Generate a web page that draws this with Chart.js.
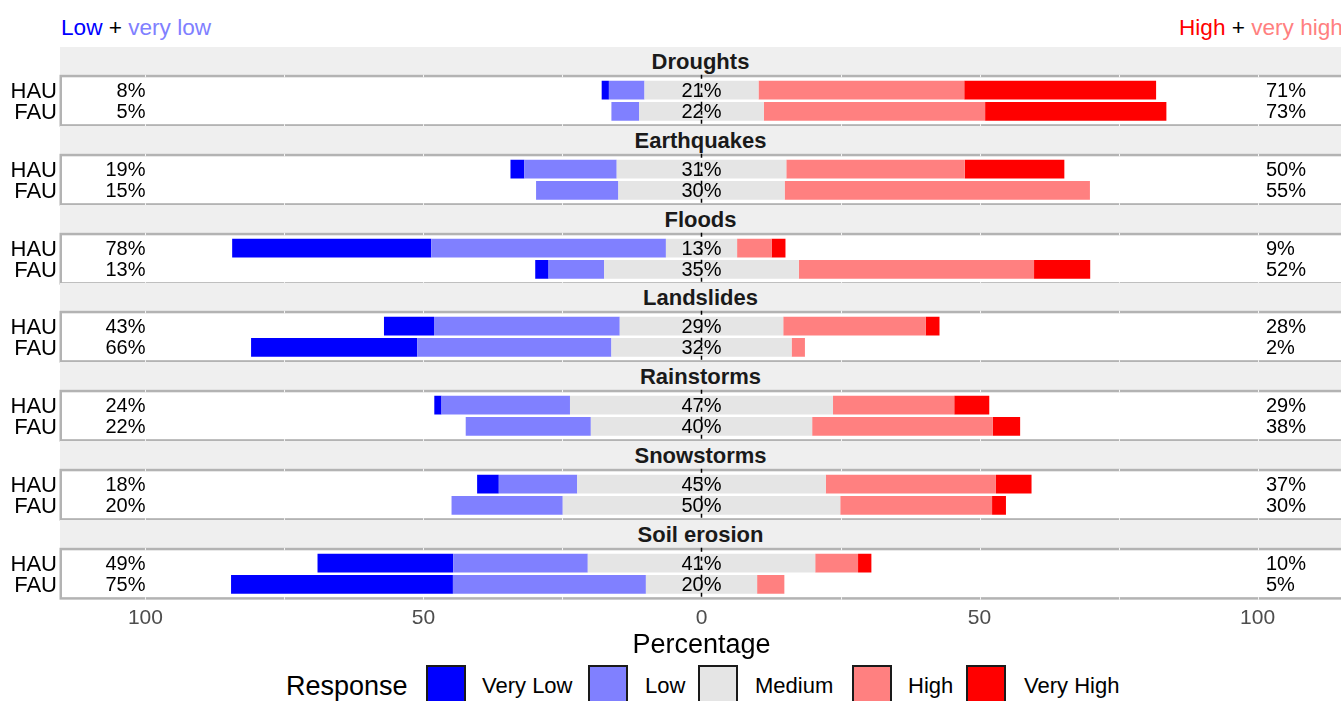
<!DOCTYPE html>
<html>
<head>
<meta charset="utf-8">
<script src="https://cdn.jsdelivr.net/npm/chart.js@4.4.1/dist/chart.umd.min.js"></script>
<style>
  body { margin: 0; width: 1341px; height: 701px; overflow: hidden; background: #fff; position: relative; font-family: "Liberation Sans", Arial, sans-serif; }
  .abs { position: absolute; white-space: nowrap; }
  .strip { position: absolute; left: 60px; width: 1281px; height: 28px; background: #efefef; text-align: center; font-weight: bold; font-size: 22px; line-height: 29px; color: #1a1a1a; }
  .key { position: absolute; top: 665px; width: 40px; height: 40px; box-sizing: border-box; border: 2px solid #1a1a1a; }
  canvas { position: absolute; left: 0; }
</style>
</head>
<body>
<div class="abs" style="left:61px; top:15px; font-size:22.6px;"><span style="color:#0000ff">Low</span> + <span style="color:#8080ff">very low</span></div>
<div class="abs" style="left:1179px; top:15px; font-size:22.6px;"><span style="color:#ff0000">High</span> + <span style="color:#ff8080">very high</span></div>
<div class="abs" style="left:286px; top:671px; font-size:27px;">Response</div>
<script>
const hazards = ['Droughts', 'Earthquakes', 'Floods', 'Landslides', 'Rainstorms', 'Snowstorms', 'Soil erosion'];
const groups = ['HAU', 'FAU'];
const responses = ['Very Low', 'Low', 'Medium', 'High', 'Very High'];
const responseColors = ['#0000ff', '#8080ff', '#e5e5e5', '#ff8080', '#ff0000'];

// percent per hazard, [HAU, FAU]
const veryLow  = [[1.3, 0], [2.5, 0], [35.8, 2.4], [9.0, 29.9], [1.3, 0], [3.9, 0], [24.4, 39.9]];
const low      = [[6.4, 5.0], [16.6, 14.8], [42.2, 10.0], [33.4, 34.9], [23.1, 22.5], [14.1, 20.0], [24.2, 34.7]];
const medium   = [[20.5, 22.4], [30.5, 29.9], [12.8, 35.0], [29.4, 32.4], [47.3, 39.8], [44.7, 49.9], [40.9, 20.0]];
const high     = [[37.0, 39.8], [32.1, 54.9], [6.2, 42.3], [25.6, 2.4], [21.8, 32.5], [30.6, 27.3], [7.7, 4.9]];
const veryHigh = [[34.5, 32.6], [17.9, 0], [2.5, 10.1], [2.5, 0], [6.3, 4.9], [6.4, 2.5], [2.4, 0]];

const lowLabels  = [['8%', '5%'], ['19%', '15%'], ['78%', '13%'], ['43%', '66%'], ['24%', '22%'], ['18%', '20%'], ['49%', '75%']];
const midLabels  = [['21%', '22%'], ['31%', '30%'], ['13%', '35%'], ['29%', '32%'], ['47%', '40%'], ['45%', '50%'], ['41%', '20%']];
const highLabels = [['71%', '73%'], ['50%', '55%'], ['9%', '52%'], ['28%', '2%'], ['29%', '38%'], ['37%', '30%'], ['10%', '5%']];

const tickValues = [-100, -75, -50, -25, 0, 25, 50, 75, 100];
const leftLabelAt = -100;   // right-aligned here
const rightLabelAt = 101.5; // left-aligned here

const firstPanelTop = 75;
const facetStep = 78.8;
const canvasLead = 16;            // canvas starts this far above the panel
const padTop = canvasLead + 4.43; // canvas top to first category edge
const areaH = 42.6;               // two category bands

Chart.defaults.font.family = '"Liberation Sans", Arial, sans-serif';

function facetPlugin(i) {
    return {
        id: 'facet' + i,
        afterDatasetsDraw(chart) {
            const { ctx, chartArea, scales: { x, y } } = chart;
            const unit = (chartArea.bottom - chartArea.top) / 2;
            const top = chartArea.top - 0.1 * unit;
            const bottom = chartArea.bottom + 0.1 * unit;
            ctx.save();

            // panel border
            ctx.strokeStyle = '#b3b3b3';
            ctx.lineWidth = 2.5;
            ctx.strokeRect(chartArea.left - 1.25, top - 1.25, chartArea.right - chartArea.left + 2.5, bottom - top + 2.5);

            // faint grid marks across the border
            ctx.strokeStyle = 'rgba(255,255,255,0.85)';
            ctx.lineWidth = 1;
            tickValues.forEach(v => {
                if (v === 0) return;
                const px = Math.round(x.getPixelForValue(v)) + 0.5;
                ctx.beginPath();
                ctx.moveTo(px, top - 2.5); ctx.lineTo(px, top);
                ctx.moveTo(px, bottom); ctx.lineTo(px, bottom + 2.5);
                ctx.stroke();
            });

            // dashed zero line
            const x0 = x.getPixelForValue(0);
            ctx.strokeStyle = '#000';
            ctx.lineWidth = 1.5;
            ctx.setLineDash([4, 5]);
            ctx.beginPath();
            ctx.moveTo(x0, top - 2.5);
            ctx.lineTo(x0, bottom + 3);
            ctx.stroke();
            ctx.setLineDash([]);

            // percentage labels
            ctx.font = '20px "Liberation Sans", Arial, sans-serif';
            ctx.fillStyle = '#000';
            ctx.textBaseline = 'middle';
            groups.forEach((g, j) => {
                const py = y.getPixelForValue(j) + 1.5;
                ctx.textAlign = 'right';
                ctx.fillText(lowLabels[i][j], x.getPixelForValue(leftLabelAt), py);
                ctx.textAlign = 'center';
                ctx.fillText(midLabels[i][j], x0, py);
                ctx.textAlign = 'left';
                ctx.fillText(highLabels[i][j], x.getPixelForValue(rightLabelAt), py);
            });
            ctx.restore();
        }
    };
}

hazards.forEach((name, i) => {
    const isLast = i === hazards.length - 1;
    const outerTop = firstPanelTop + i * facetStep;

    const strip = document.createElement('div');
    strip.className = 'strip';
    strip.style.top = (outerTop - 28) + 'px';
    strip.textContent = name;
    document.body.appendChild(strip);

    const canvas = document.createElement('canvas');
    const h = isLast ? 130 : 84;
    canvas.width = 1341;
    canvas.height = h;
    canvas.style.top = (outerTop - canvasLead) + 'px';
    document.body.appendChild(canvas);

    const datasets = [
        { label: 'Medium', data: medium[i].map(v => -v / 2), backgroundColor: responseColors[2] },
        { label: 'Low', data: low[i].map(v => -v), backgroundColor: responseColors[1] },
        { label: 'Very Low', data: veryLow[i].map(v => -v), backgroundColor: responseColors[0] },
        { label: 'Medium', data: medium[i].map(v => v / 2), backgroundColor: responseColors[2] },
        { label: 'High', data: high[i], backgroundColor: responseColors[3] },
        { label: 'Very High', data: veryHigh[i], backgroundColor: responseColors[4] }
    ].map(d => Object.assign(d, { barPercentage: 0.88, categoryPercentage: 1, borderWidth: 0 }));

    new Chart(canvas.getContext('2d'), {
        type: 'bar',
        data: { labels: groups, datasets: datasets },
        options: {
            indexAxis: 'y',
            responsive: false,
            animation: false,
            layout: { padding: { top: padTop, bottom: isLast ? 0 : h - padTop - areaH, left: 0, right: 0 } },
            plugins: { legend: { display: false }, tooltip: { enabled: false } },
            scales: {
                x: {
                    type: 'linear', min: -115, max: 115, stacked: true, display: isLast,
                    grid: { display: false, drawTicks: false }, border: { display: false },
                    afterBuildTicks: s => { s.ticks = tickValues.map(v => ({ value: v })); },
                    ticks: {
                        padding: 11, color: '#4d4d4d', font: { size: 21 }, autoSkip: false, maxRotation: 0,
                        callback: v => v % 50 === 0 ? String(Math.abs(v)) : ''
                    },
                    title: { display: true, text: 'Percentage', color: '#000', font: { size: 27 }, padding: 0 },
                    afterFit: s => { if (isLast) s.height = h - padTop - areaH; }
                },
                y: {
                    stacked: true,
                    grid: { display: false, drawTicks: false }, border: { display: false },
                    ticks: { padding: 5, color: '#000', font: { size: 22 }, autoSkip: false, labelOffset: 1.5 },
                    afterFit: s => { s.width = 62; }
                }
            }
        },
        plugins: [facetPlugin(i)]
    });
});

// legend keys
const keyLeft = [426, 588, 698, 852, 966];
const textLeft = [482, 645, 755, 908, 1024];
responses.forEach((r, k) => {
    const key = document.createElement('div');
    key.className = 'key';
    key.style.left = keyLeft[k] + 'px';
    key.style.background = responseColors[k];
    document.body.appendChild(key);
    const t = document.createElement('div');
    t.className = 'abs';
    t.style.left = textLeft[k] + 'px';
    t.style.top = '673px';
    t.style.fontSize = '22px';
    t.textContent = r;
    document.body.appendChild(t);
});
</script>
</body>
</html>
